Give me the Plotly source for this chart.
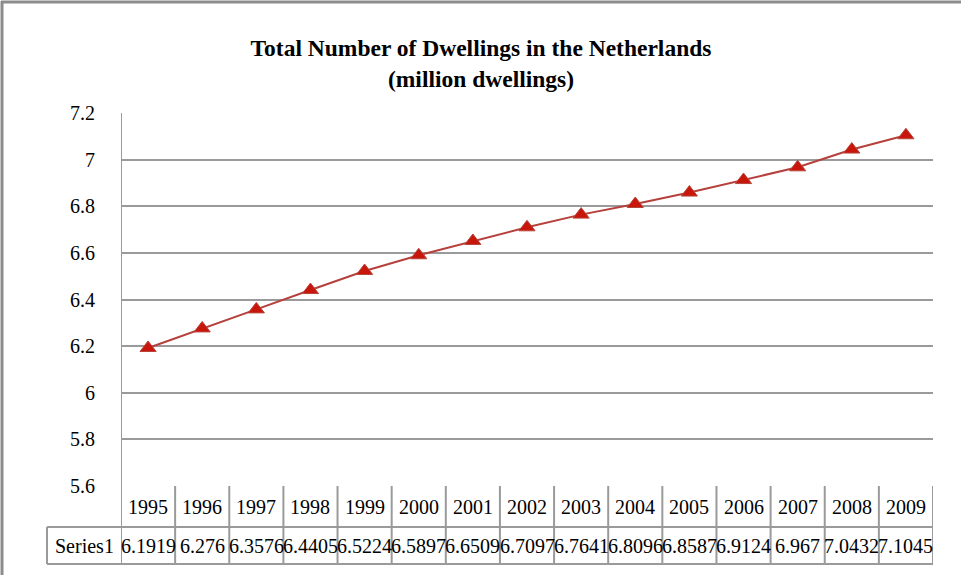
import plotly.graph_objects as go

# Dwelling stock, million dwellings
years = ["1995", "1996", "1997", "1998", "1999", "2000", "2001", "2002",
         "2003", "2004", "2005", "2006", "2007", "2008", "2009"]
dwellings = [6.1919, 6.276, 6.3576, 6.4405, 6.5224, 6.5897, 6.6509, 6.7097,
             6.7641, 6.8096, 6.8587, 6.9124, 6.967, 7.0432, 7.1045]
value_labels = ["6.1919", "6.276", "6.3576", "6.4405", "6.5224", "6.5897", "6.6509",
                "6.7097", "6.7641", "6.8096", "6.8587", "6.9124", "6.967", "7.0432", "7.1045"]
series_name = "Series1"
y_ticks = [5.6, 5.8, 6.0, 6.2, 6.4, 6.6, 6.8, 7.0, 7.2]
y_tick_text = ["5.6", "5.8", "6", "6.2", "6.4", "6.6", "6.8", "7", "7.2"]

W, H = 961, 575
L, R, T, B = 121, 28, 113, 89
plot_h = H - T - B
plot_w = W - L - R

FONT = "Liberation Serif"
GRID = "#9a9a9a"


def py(pix):
    """Convert a pixel row to paper y."""
    return (H - B - pix) / plot_h


def px(pix):
    """Convert a pixel column to paper x."""
    return (pix - L) / plot_w


idx = list(range(len(years)))

fig = go.Figure()
fig.add_trace(go.Scatter(
    x=idx, y=dwellings, mode="lines+markers", name=series_name,
    line=dict(color="#B5403C", width=2),
    marker=dict(symbol="triangle-up", size=14, color="#C8160A",
                line=dict(color="#B5453C", width=1)),
    showlegend=False, hoverinfo="x+y",
))

shapes = []
annotations = []

# data table below the plot
row_mid = 527
row_bot = 564
label_left = 47
line_style = dict(color=GRID, width=2)
for row in (row_mid, row_bot):
    shapes.append(dict(type="line", xref="paper", yref="paper", x0=px(label_left), x1=1,
                       y0=py(row), y1=py(row), line=line_style))
shapes.append(dict(type="line", xref="paper", yref="paper", x0=px(label_left),
                   x1=px(label_left), y0=py(row_mid), y1=py(row_bot), line=line_style))
for i in range(len(years) + 1):
    y_top = 1 if i == 0 else 0
    shapes.append(dict(type="line", xref="x", yref="paper", x0=i - 0.5, x1=i - 0.5,
                       y0=y_top, y1=py(row_bot), line=line_style))

cell_font = dict(family=FONT, size=20, color="#000")
for i, (yr, lab) in enumerate(zip(years, value_labels)):
    annotations.append(dict(x=i, y=py((H - B + row_mid) / 2), xref="x", yref="paper",
                            text=yr, showarrow=False, xanchor="center", yanchor="middle",
                            font=cell_font))
    annotations.append(dict(x=i, y=py((row_mid + row_bot) / 2), xref="x", yref="paper",
                            text=lab, showarrow=False, xanchor="center", yanchor="middle",
                            font=cell_font))
annotations.append(dict(x=px((label_left + L) / 2), y=py((row_mid + row_bot) / 2),
                        xref="paper", yref="paper", text=series_name, showarrow=False,
                        xanchor="center", yanchor="middle", font=cell_font))

# outer chart frame (left and top edges)
shapes.append(dict(type="line", xref="paper", yref="paper", x0=px(2), x1=px(2),
                   y0=py(1), y1=py(H + 5), line=dict(color="#8c8c8c", width=3)))
shapes.append(dict(type="line", xref="paper", yref="paper", x0=px(1), x1=px(W + 5),
                   y0=py(2), y1=py(2), line=dict(color="#8c8c8c", width=3)))

fig.update_layout(
    width=W, height=H,
    margin=dict(l=L, r=R, t=T, b=B),
    paper_bgcolor="white", plot_bgcolor="white",
    title=dict(text="<b>Total Number of Dwellings in the Netherlands<br>(million dwellings)</b>",
               x=px(481), xref="paper", xanchor="center", y=1 - 56 / H, yanchor="middle",
               font=dict(family=FONT, size=23.5, color="#000")),
    xaxis=dict(range=[-0.5, len(years) - 0.5], showgrid=False, zeroline=False,
               showticklabels=False, ticks="", showline=False, fixedrange=True),
    yaxis=dict(range=[5.6, 7.2], tickvals=y_ticks, ticktext=y_tick_text,
               showgrid=True, gridcolor=GRID, gridwidth=2, zeroline=False,
               showline=False, ticks="", ticklabelstandoff=25,
               tickfont=dict(family=FONT, size=20, color="#000"), fixedrange=True),
    shapes=shapes,
    annotations=annotations,
)

fig.write_html("out.html")
